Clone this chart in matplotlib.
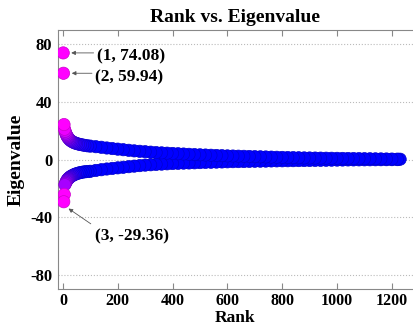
import numpy as np
import matplotlib.pyplot as plt
from matplotlib.colors import LinearSegmentedColormap, Normalize

plt.rcParams['font.family'] = ['Liberation Serif', 'DejaVu Serif']
plt.rcParams['font.weight'] = 'bold'

# three leading eigenvalues (annotated)
lead_rank = [1, 2, 3]
lead_val = [74.08, 59.94, -29.36]

# positive branch
pos_rank = [4, 6, 8, 10, 12, 14, 16, 18, 20, 23, 26, 30, 35, 40, 45, 50, 57, 64, 72, 80, 90,
            100, 120, 140, 160, 180, 200, 220, 240, 260, 280, 300, 320, 340, 360, 380, 400,
            420, 440, 460, 480, 500, 520, 540, 560, 580, 600, 620, 640, 660, 680, 700,
            720, 740, 760, 780, 800, 820, 840, 860, 880, 900, 920, 940, 960, 980, 1000,
            1020, 1040, 1060, 1080, 1100, 1120, 1140, 1160, 1180, 1200, 1220, 1230]
pos_val = [24.3, 21.0, 19.6, 18.4, 17.4, 16.6, 15.9, 15.3, 14.8, 14.1, 13.5, 12.9, 12.3, 11.8,
           11.4, 11.1, 10.7, 10.4, 10.1, 9.8, 9.5,
           9.3, 8.9, 8.5, 8.0, 7.6, 7.2, 6.8, 6.4, 6.0, 5.7, 5.4, 5.1, 4.8, 4.6, 4.4, 4.2,
           4.0, 3.8, 3.6, 3.4, 3.25, 3.1, 2.95, 2.8, 2.65, 2.5, 2.4, 2.3, 2.2, 2.1, 1.95,
           1.85, 1.75, 1.65, 1.55, 1.45, 1.35, 1.3, 1.2, 1.1, 1.05, 1.0, 0.95, 0.9, 0.85, 0.8,
           0.75, 0.7, 0.65, 0.6, 0.55, 0.5, 0.45, 0.4, 0.35, 0.3, 0.25, 0.2]

# negative branch
neg_rank = [5, 7, 9, 11, 13, 15, 17, 19, 21, 24, 27, 31, 36, 41, 46, 52, 59, 66, 74, 82, 91,
            100, 120, 140, 160, 180, 200, 220, 240, 260, 280, 300, 320, 340, 360, 380, 400,
            420, 440, 460, 480, 500, 520, 540, 560, 580, 600, 620, 640, 660, 680, 700,
            720, 740, 760, 780, 800, 820, 840, 860, 880, 900, 920, 940, 960, 980, 1000,
            1020, 1040, 1060, 1080, 1100, 1120, 1140, 1160, 1180, 1200, 1220]
neg_val = [-24.3, -17.5, -16.6, -15.8, -15.0, -14.4, -13.9, -13.4, -13.0, -12.5, -12.0, -11.5,
           -11.0, -10.5, -10.1, -9.7, -9.3, -9.0, -8.7, -8.5, -8.35,
           -8.2, -7.6, -7.1, -6.6, -6.2, -5.8, -5.4, -5.0, -4.6, -4.25, -3.9, -3.65, -3.4,
           -3.2, -3.0, -2.8, -2.65, -2.5, -2.4, -2.3, -2.15, -2.0, -1.9, -1.8, -1.7, -1.6,
           -1.5, -1.45, -1.4, -1.3, -1.2, -1.15, -1.1, -1.0, -0.95, -0.9, -0.85, -0.8,
           -0.75, -0.7, -0.65, -0.6, -0.55, -0.5, -0.45, -0.4, -0.35, -0.3, -0.28, -0.25,
           -0.22, -0.2, -0.17, -0.15, -0.12, -0.1, -0.08]

x_ticks = [0, 200, 400, 600, 800, 1000, 1200]
y_ticks = [-80, -40, 0, 40, 80]

rank = np.array(lead_rank + pos_rank + neg_rank)
val = np.array(lead_val + pos_val + neg_val)
order = np.argsort(np.abs(val))
rank, val = rank[order], val[order]

cmap = LinearSegmentedColormap.from_list('bm', ['#0000ff', '#ff00ff'])
norm = Normalize(vmin=9, vmax=22, clip=True)
cols = cmap(norm(np.abs(val)))
edge = cols.copy()
edge[:, :3] *= 0.8

fig = plt.figure(figsize=(4.13, 3.25), dpi=100)
ax = fig.add_axes([58/413, 36/325, 355/413, 259/325])

ax.scatter(rank, val, s=78, c=cols, edgecolors=edge, linewidths=0.5, zorder=3)

ax.set_xlim(-18, 1277)
ax.set_ylim(-90, 90)
ax.set_xticks(x_ticks)
ax.set_yticks(y_ticks)
ax.set_xticklabels([str(t) for t in x_ticks], fontsize=11.5, fontweight='bold')
ax.set_yticklabels([str(t) for t in y_ticks], fontsize=12, fontweight='bold')
ax.tick_params(axis='x', direction='in', top=True, length=4, color='#888888', pad=3)
ax.tick_params(axis='y', direction='in', length=0, pad=4)
ax.grid(axis='y', linestyle=':', color='#bbbbbb', linewidth=0.8)
ax.set_axisbelow(True)
for s in ['left', 'top', 'bottom']:
    ax.spines[s].set_color('#888888')
ax.spines['right'].set_visible(False)

ax.set_title('Rank vs. Eigenvalue', fontsize=14, fontweight='bold', pad=6)
ax.set_xlabel('Rank', fontsize=12.5, fontweight='bold')
ax.xaxis.set_label_coords(0.5, -0.08)
ax.set_ylabel('Eigenvalue', fontsize=14, fontweight='bold', labelpad=4)

arrow = dict(arrowstyle='-|>', color='#555555', lw=0.6, mutation_scale=6)
ax.annotate('', xy=(20, 74.08), xytext=(122, 74.08), arrowprops=arrow)
ax.text(124, 71.4, '(1, 74.08)', fontsize=12.5, fontweight='bold', va='center', ha='left')
ax.annotate('', xy=(22, 59.94), xytext=(116, 59.94), arrowprops=arrow)
ax.text(118, 56.8, '(2, 59.94)', fontsize=12.5, fontweight='bold', va='center', ha='left')
ax.annotate('', xy=(12, -33), xytext=(110, -45.8), arrowprops=arrow)
ax.text(118, -53.2, '(3, -29.36)', fontsize=12.5, fontweight='bold', va='center', ha='left')

fig.savefig('out.png', dpi=100)
